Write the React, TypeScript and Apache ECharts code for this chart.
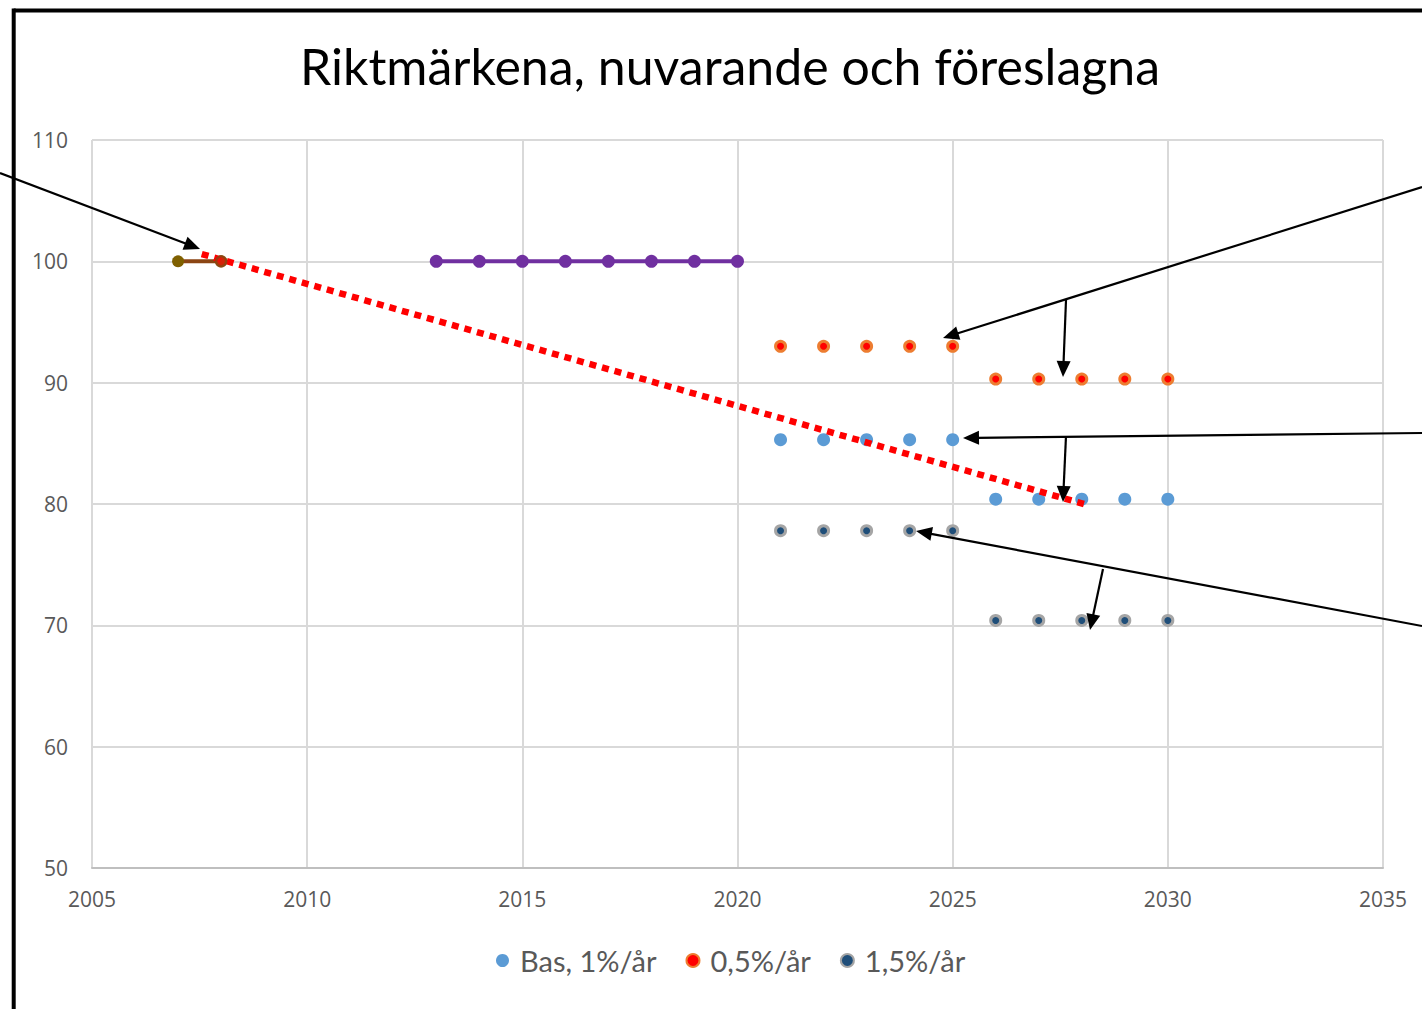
import React, { useEffect, useRef } from "react";
import * as echarts from "echarts";

// ---- data ----
const titleText = "Riktmärkena, nuvarande och föreslagna";
const yearTicks = [2005, 2010, 2015, 2020, 2025, 2030, 2035];
const valueTicks = [50, 60, 70, 80, 90, 100, 110];

const earlyYears = [2007, 2008];
const earlyValues = [100, 100];

const currentYears = [2013, 2014, 2015, 2016, 2017, 2018, 2019, 2020];
const currentValues = [100, 100, 100, 100, 100, 100, 100, 100];

const trendYears = [2007.55, 2028.05];
const trendValues = [100.6, 80.0];

const scenarioYears = [2021, 2022, 2023, 2024, 2025, 2026, 2027, 2028, 2029, 2030];
const basValues = [85.3, 85.3, 85.3, 85.3, 85.3, 80.4, 80.4, 80.4, 80.4, 80.4];
const lowValues = [93.0, 93.0, 93.0, 93.0, 93.0, 90.3, 90.3, 90.3, 90.3, 90.3];
const highValues = [77.8, 77.8, 77.8, 77.8, 77.8, 70.4, 70.4, 70.4, 70.4, 70.4];

const seriesNames = ["Bas, 1%/år", "0,5%/år", "1,5%/år"];

// annotation arrows (page pixels): [fromX, fromY, toX, toY]
const arrows: number[][] = [
  [0, 173, 200, 249],
  [1422, 187, 943, 338],
  [1066, 300, 1063, 377],
  [1422, 433, 963, 438],
  [1066, 436, 1063, 502],
  [1422, 626, 916, 531],
  [1103, 569, 1090, 630],
];

const zip = (xs: number[], ys: number[]) => xs.map((x, i) => [x, ys[i]]);

function arrowGraphics(a: number[]) {
  const [x1, y1, x2, y2] = a;
  const dx = x2 - x1;
  const dy = y2 - y1;
  const len = Math.sqrt(dx * dx + dy * dy);
  const ux = dx / len;
  const uy = dy / len;
  const headLen = 16;
  const headW = 7;
  const bx = x2 - ux * headLen;
  const by = y2 - uy * headLen;
  const px = -uy;
  const py = ux;
  return [
    {
      type: "line",
      shape: { x1, y1, x2: bx + ux * 2, y2: by + uy * 2 },
      style: { stroke: "#000", lineWidth: 2.2 },
      z: 100,
    },
    {
      type: "polygon",
      shape: {
        points: [
          [x2, y2],
          [bx + px * headW, by + py * headW],
          [bx - px * headW, by - py * headW],
        ],
      },
      style: { fill: "#000" },
      z: 100,
    },
  ];
}

export default function App() {
  const ref = useRef<HTMLDivElement>(null);
  useEffect(() => {
    document.body.style.margin = "0";
    const chart = echarts.init(ref.current!, null, { renderer: "svg" });
    const axisLabelStyle = {
      color: "#595959",
      fontFamily: "Open Sans",
      fontSize: 21,
    };
    const option: any = {
      animation: false,
      backgroundColor: "#fff",
      title: {
        text: titleText,
        left: 725,
        textAlign: "center",
        top: 36,
        textStyle: {
          fontFamily: "Lato",
          fontWeight: "normal",
          fontSize: 50,
          color: "#000",
        },
      },
      grid: { left: 92, right: 39, top: 140, bottom: 141, containLabel: false },
      xAxis: {
        type: "value",
        min: yearTicks[0],
        max: yearTicks[yearTicks.length - 1],
        interval: 5,
        axisLine: { show: true, lineStyle: { color: "#BFBFBF", width: 2 } },
        axisTick: { show: false },
        splitLine: { show: true, lineStyle: { color: "#D9D9D9", width: 2 } },
        axisLabel: { ...axisLabelStyle, margin: 20, formatter: (v: number) => String(v) },
      },
      yAxis: {
        type: "value",
        min: valueTicks[0],
        max: valueTicks[valueTicks.length - 1],
        interval: 10,
        axisLine: { show: false },
        axisTick: { show: false },
        splitLine: { show: true, lineStyle: { color: "#D9D9D9", width: 2 } },
        axisLabel: { ...axisLabelStyle, margin: 24 },
      },
      legend: {
        data: seriesNames,
        left: 491,
        top: 941,
        itemWidth: 13,
        itemHeight: 13,
        itemGap: 29,
        icon: "circle",
        textStyle: { color: "#595959", fontFamily: "Lato", fontSize: 29, padding: [0, 0, 0, 6] },
      },
      series: [
        {
          type: "line",
          name: "early",
          data: zip(earlyYears, earlyValues),
          lineStyle: { color: "#8B4513", width: 4 },
          symbol: "circle",
          symbolSize: 12,
          itemStyle: { color: "#7F6000" },
          z: 3,
        },
        {
          type: "line",
          name: "current",
          data: zip(currentYears, currentValues),
          lineStyle: { color: "#7030A0", width: 4 },
          symbol: "circle",
          symbolSize: 13,
          itemStyle: { color: "#7030A0" },
          z: 3,
        },
        {
          type: "scatter",
          name: seriesNames[0],
          data: zip(scenarioYears, basValues),
          symbol: "circle",
          symbolSize: 13,
          itemStyle: { color: "#5B9BD5", opacity: 1 },
          z: 3,
        },
        {
          type: "scatter",
          name: seriesNames[1],
          data: zip(scenarioYears, lowValues),
          symbol: "circle",
          symbolSize: 10,
          itemStyle: { color: "#FF0000", borderColor: "#ED7D31", borderWidth: 3, opacity: 1 },
          z: 3,
        },
        {
          type: "scatter",
          name: seriesNames[2],
          data: zip(scenarioYears, highValues),
          symbol: "circle",
          symbolSize: 10,
          itemStyle: { color: "#1F4E79", borderColor: "#A5A5A5", borderWidth: 3, opacity: 1 },
          z: 3,
        },
        {
          type: "line",
          name: "trend",
          data: zip(trendYears, trendValues),
          showSymbol: false,
          symbol: "none",
          lineStyle: { color: "#FF0000", width: 6.5, type: [7, 6], cap: "butt" },
          z: 4,
        },
        {
          type: "scatter",
          name: "earlyEnd",
          data: [[earlyYears[1], earlyValues[1]]],
          symbol: "circle",
          symbolSize: 10,
          itemStyle: { color: "#E8150A", borderColor: "#8B4513", borderWidth: 2.5 },
          z: 5,
        },
      ],
      graphic: [
        {
          type: "line",
          shape: { x1: 13.7, y1: 10.5, x2: 1422, y2: 10.5 },
          style: { stroke: "#000", lineWidth: 4 },
          z: 100,
        },
        {
          type: "line",
          shape: { x1: 13.7, y1: 8.5, x2: 13.7, y2: 1009 },
          style: { stroke: "#000", lineWidth: 4 },
          z: 100,
        },
        ...arrows.flatMap(arrowGraphics),
      ],
    };
    chart.setOption(option);
    return () => chart.dispose();
  }, []);
  return <div ref={ref} style={{ width: 1422, height: 1009 }} />;
}
